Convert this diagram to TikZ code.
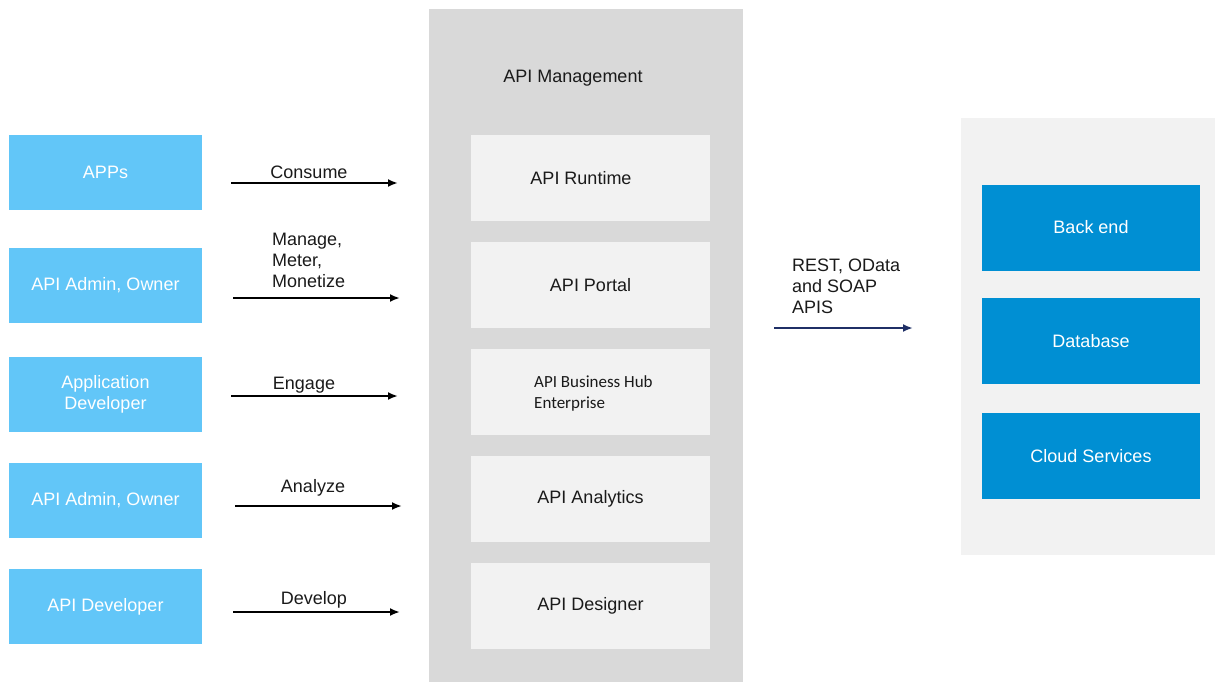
\documentclass[tikz,border=0pt]{standalone}
\usepackage{fontspec}
\setmainfont{Liberation Sans}
\newfontfamily\hubfont{Carlito}
\usetikzlibrary{arrows.meta}
\definecolor{roleblue}{HTML}{62C6F8}
\definecolor{sysblue}{HTML}{008FD3}
\definecolor{mgmtgray}{HTML}{D9D9D9}
\definecolor{panelgray}{HTML}{F2F2F2}
\definecolor{navy}{HTML}{1F2F66}
\definecolor{ink}{HTML}{1A1A1A}
\tikzset{
  role/.style={fill=roleblue, draw=none, minimum width=193pt, minimum height=75pt,
    text=white, font=\fontsize{18}{21}\selectfont, align=center, inner sep=0pt},
  service/.style={fill=panelgray, draw=none, minimum width=239pt, minimum height=86pt,
    text=ink, font=\fontsize{18}{21}\selectfont, inner sep=0pt},
  system/.style={fill=sysblue, draw=none, minimum width=218pt, minimum height=86pt,
    text=white, font=\fontsize{18}{21}\selectfont, inner sep=0pt},
  flow/.style={line width=2.4pt, draw=black, -{Latex[length=10pt,width=8pt]}},
  apiflow/.style={line width=2.2pt, draw=navy, -{Latex[length=10pt,width=8pt]}},
  flowlabel/.style={text=ink, font=\fontsize{18}{21}\selectfont, inner sep=0pt, align=left}
}
\begin{document}
\begin{tikzpicture}[x=1pt, y=-1pt]
\useasboundingbox (0,0) rectangle (1215,682);

% API Management column
\node[fill=mgmtgray, draw=none, minimum width=314pt, minimum height=673pt, inner sep=0pt]
  (mgmt) at (586,345.5) {};
\node[flowlabel] (mgmttitle) at (573,78) {API Management};

% back-end panel
\node[fill=panelgray, draw=none, minimum width=254pt, minimum height=437pt, inner sep=0pt]
  (panel) at (1088,336.5) {};

% roles
\node[role] (apps)   at (105.5,172.5) {APPs};
\node[role] (admin1) at (105.5,285.5) {API Admin, Owner};
\node[role] (appdev) at (105.5,394.5) {Application\\Developer};
\node[role] (admin2) at (105.5,500.5) {API Admin, Owner};
\node[role] (apidev) at (105.5,606.5) {API Developer};

% API Management services
\node[service] (runtime)   at (590.5,178) {\hspace*{-19pt}API Runtime};
\node[service] (portal)    at (590.5,285) {API Portal};
\node[service] (hub)       at (590.5,392) {};
\node[text=ink, font=\hubfont\fontsize{17}{21}\selectfont, align=left, inner sep=0pt, anchor=west]
  (hubtext) at (534,393) {API Business Hub\\Enterprise};
\node[service] (analytics) at (590.5,499) {API Analytics};
\node[service] (designer)  at (590.5,606) {API Designer};

% back-end systems
\node[system] (backend)  at (1091,227.5) {Back end};
\node[system] (database) at (1091,341)   {Database};
\node[system] (cloud)    at (1091,456)   {Cloud Services};

% arrow end points
\coordinate (c1s) at (231,183); \coordinate (c1e) at (398,183);
\coordinate (c2s) at (233,298); \coordinate (c2e) at (400,298);
\coordinate (c3s) at (231,396); \coordinate (c3e) at (398,396);
\coordinate (c4s) at (235,506); \coordinate (c4e) at (402,506);
\coordinate (c5s) at (233,612); \coordinate (c5e) at (400,612);
\coordinate (rs)  at (774,328); \coordinate (re)  at (913,328);

% role arrows with their labels
\draw[flow] (c1s) -- (c1e);
\node[flowlabel] (lconsume) at (309,172) {Consume};
\draw[flow] (c2s) -- (c2e);
\node[flowlabel, anchor=west] (lmanage) at (272,260) {Manage,\\Meter,\\Monetize};
\draw[flow] (c3s) -- (c3e);
\node[flowlabel] (lengage) at (304,385) {Engage};
\draw[flow] (c4s) -- (c4e);
\node[flowlabel] (lanalyze) at (313,488) {Analyze};
\draw[flow] (c5s) -- (c5e);
\node[flowlabel] (ldevelop) at (314,600) {Develop};

% API protocols towards the back end
\draw[apiflow] (rs) -- (re);
\node[flowlabel, anchor=west] (lrest) at (792,286) {REST, OData\\and SOAP\\APIS};
\end{tikzpicture}
\end{document}
